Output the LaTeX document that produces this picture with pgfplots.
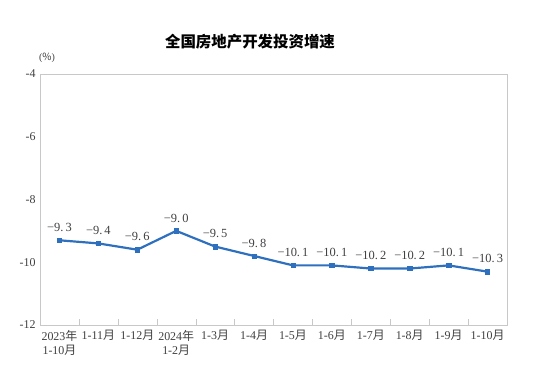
\documentclass[border=0pt]{standalone}
\usepackage{pgfplots}
\pgfplotsset{compat=1.18}
\usepackage{fontspec}
\setmainfont{Liberation Serif}
\newfontfamily\cjk{Noto Sans CJK SC}
\definecolor{lineblue}{RGB}{46,112,190}
\definecolor{framegray}{RGB}{200,200,200}
\begin{document}
\begin{tikzpicture}
\useasboundingbox (0,0) rectangle (543bp,376bp);
\begin{axis}[
  at={(40bp,51bp)}, anchor=south west,
  scale only axis, width=467bp, height=251bp,
  xmin=-0.5, xmax=11.5, ymin=-12, ymax=-4,
  ytick={-12,-10,-8,-6,-4},
  /pgf/number format/assume math mode=true,
  axis line style={framegray},
  ytick style={draw=none},
  xtick={0,...,11},
  major x tick style={draw=none},
  minor xtick={0.5,1.5,...,10.5},
  minor x tick style={framegray},
  minor tick length=6bp,
  xtick pos=bottom,
  xticklabels={{2023{\cjk 年}\\1-10{\cjk 月}},{1-11{\cjk 月}},{1-12{\cjk 月}},{2024{\cjk 年}\\1-2{\cjk 月}},{1-3{\cjk 月}},{1-4{\cjk 月}},{1-5{\cjk 月}},{1-6{\cjk 月}},{1-7{\cjk 月}},{1-8{\cjk 月}},{1-9{\cjk 月}},{1-10{\cjk 月}}},
  xticklabel style={align=center, font=\fontsize{12}{13.5}\selectfont, text=black!75, anchor=north, yshift=-2bp},
  yticklabel style={font=\fontsize{12}{13}\selectfont, text=black!75, xshift=-1bp},
  nodes near coords,
  point meta=explicit symbolic,
  nodes near coords style={font=\fontsize{12.5}{14}\selectfont, text=black!75, anchor=south, yshift=5bp},
  clip=false,
]
\addplot[lineblue, line width=2.2pt, mark=square*, mark size=2.2pt, mark options={lineblue, line width=0.5pt}] table[meta=lab] {
x y lab
0 -9.3 −9.\,3
1 -9.4 −9.\,4
2 -9.6 −9.\,6
3 -9.0 −9.\,0
4 -9.5 −9.\,5
5 -9.8 −9.\,8
6 -10.1 −10.\,1
7 -10.1 −10.\,1
8 -10.2 −10.\,2
9 -10.2 −10.\,2
10 -10.1 −10.\,1
11 -10.3 −10.\,3
};
\end{axis}
\node[font=\cjk\bfseries\fontsize{15.5}{16}\selectfont] at (250bp,334bp) {全国房地产开发投资增速};
\node[font=\fontsize{10}{11}\selectfont, text=black!75] at (47bp,318bp) {({\cjk \%})};
\end{tikzpicture}
\end{document}
